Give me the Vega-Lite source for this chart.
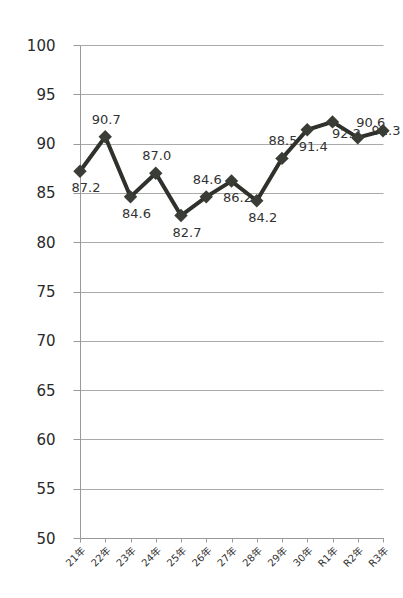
{
  "$schema": "https://vega.github.io/schema/vega-lite/v6.json",
  "width": 303,
  "height": 493,
  "autosize": "none",
  "padding": {"left": 80, "top": 45, "right": 20, "bottom": 60},
  "background": "white",
  "config": {
    "view": {"stroke": null},
    "font": "DejaVu Sans, Noto Sans CJK JP"
  },
  "data": {
    "values": [
      {"year": "21年", "value": 87.2},
      {"year": "22年", "value": 90.7},
      {"year": "23年", "value": 84.6},
      {"year": "24年", "value": 87.0},
      {"year": "25年", "value": 82.7},
      {"year": "26年", "value": 84.6},
      {"year": "27年", "value": 86.2},
      {"year": "28年", "value": 84.2},
      {"year": "29年", "value": 88.5},
      {"year": "30年", "value": 91.4},
      {"year": "R1年", "value": 92.2},
      {"year": "R2年", "value": 90.6},
      {"year": "R3年", "value": 91.3}
    ]
  },
  "encoding": {
    "x": {
      "field": "year", "type": "ordinal", "sort": null,
      "scale": {"type": "point", "padding": 0, "domain": ["21年", "22年", "23年", "24年", "25年", "26年", "27年", "28年", "29年", "30年", "R1年", "R2年", "R3年"]},
      "axis": {
        "title": null, "labelAngle": -45, "labelFontSize": 10, "labelColor": "#333",
        "domainColor": "#999", "tickColor": "#999", "tickSize": 4, "labelPadding": 3,
        "grid": false
      }
    },
    "y": {
      "field": "value", "type": "quantitative",
      "scale": {"domain": [50, 100], "nice": false, "zero": false},
      "axis": {
        "title": null, "values": [50, 55, 60, 65, 70, 75, 80, 85, 90, 95, 100],
        "labelFontSize": 15, "labelColor": "#2a2a2a", "tickSize": 7, "tickColor": "#999",
        "labelPadding": 18, "domainColor": "#999", "grid": true, "gridColor": "#aaa",
        "gridWidth": 1
      }
    }
  },
  "layer": [
    {
      "transform": [{"filter": {"field": "year", "oneOf": ["21年", "23年", "25年", "27年", "28年", "30年"]}}],
      "mark": {"type": "text", "fontSize": 13, "color": "#333", "dy": 17, "dx": 6, "baseline": "middle"},
      "encoding": {"text": {"field": "value", "type": "quantitative", "format": ".1f"}}
    },
    {
      "transform": [{"filter": {"field": "year", "equal": "R1年"}}],
      "mark": {"type": "text", "fontSize": 13, "color": "#333", "dy": 12, "dx": 14, "baseline": "middle"},
      "encoding": {"text": {"field": "value", "type": "quantitative", "format": ".1f"}}
    },
    {
      "transform": [{"filter": {"field": "year", "oneOf": ["22年", "24年", "26年", "29年"]}}],
      "mark": {"type": "text", "fontSize": 13, "color": "#333", "dy": -17, "dx": 1, "baseline": "middle"},
      "encoding": {"text": {"field": "value", "type": "quantitative", "format": ".1f"}}
    },
    {
      "transform": [{"filter": {"field": "year", "equal": "R3年"}}],
      "mark": {"type": "text", "fontSize": 13, "color": "#333", "dx": 3, "baseline": "middle"},
      "encoding": {"text": {"field": "value", "type": "quantitative", "format": ".1f"}}
    },
    {
      "transform": [{"filter": {"field": "year", "equal": "R2年"}}],
      "mark": {"type": "text", "fontSize": 13, "color": "#333", "dy": -15, "dx": 13, "baseline": "middle"},
      "encoding": {"text": {"field": "value", "type": "quantitative", "format": ".1f"}}
    },
    {
      "mark": {"type": "line", "color": "#2f322c", "strokeWidth": 4},
      "encoding": {}
    },
    {
      "mark": {"type": "point", "shape": "diamond", "filled": true, "color": "#3a3d35", "size": 180, "opacity": 1},
      "encoding": {}
    }
  ]
}
